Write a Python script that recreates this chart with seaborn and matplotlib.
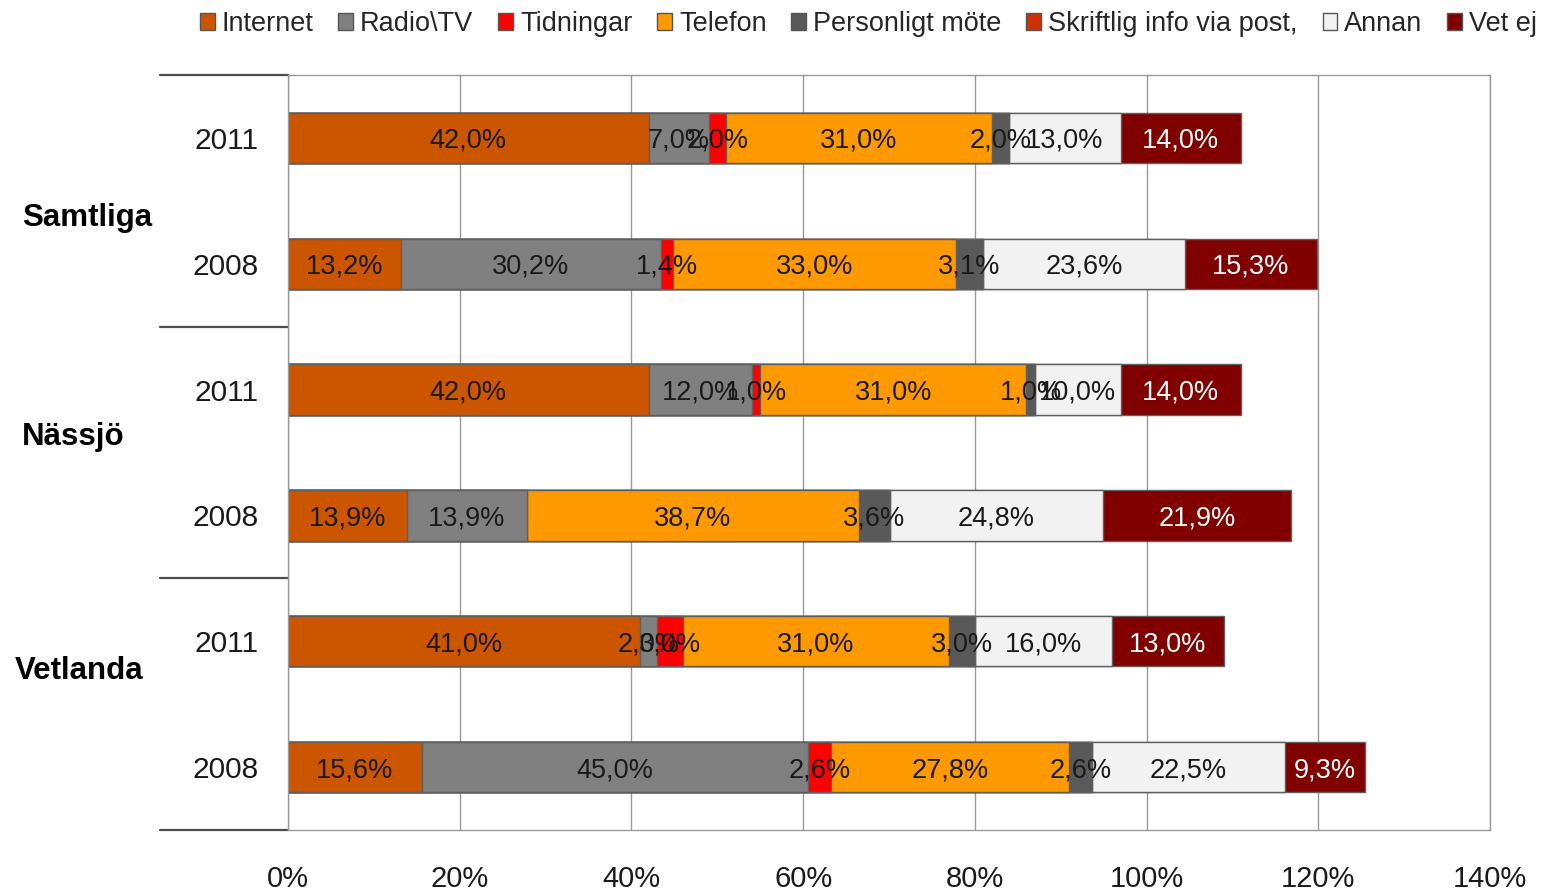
import numpy as np
import pandas as pd
import matplotlib
matplotlib.use("Agg")
import matplotlib.pyplot as plt
import seaborn as sns
from matplotlib.patches import Patch
from matplotlib.transforms import blended_transform_factory

# ---------------- data ----------------
groups = ["Samtliga", "Nässjö", "Vetlanda"]
years = ["2011", "2008"]
series = ["Internet", "Radio\\TV", "Tidningar", "Telefon", "Personligt möte",
          "Skriftlig info via post,", "Annan", "Vet ej"]
internet = [42.0, 13.2, 42.0, 13.9, 41.0, 15.6]
radio_tv = [7.0, 30.2, 12.0, 13.9, 2.0, 45.0]
tidningar = [2.0, 1.4, 1.0, 0.0, 3.0, 2.6]
telefon = [31.0, 33.0, 31.0, 38.7, 31.0, 27.8]
personligt = [2.0, 3.1, 1.0, 3.6, 3.0, 2.6]
skriftlig = [0.0, 0.0, 0.0, 0.0, 0.0, 0.0]
annan = [13.0, 23.6, 10.0, 24.8, 16.0, 22.5]
vet_ej = [14.0, 15.3, 14.0, 21.9, 13.0, 9.3]
xticks = [0, 20, 40, 60, 80, 100, 120, 140]

# ---------------- style ----------------
colors = ["#CC5500", "#808080", "#FF0000", "#FF9900", "#595959",
          "#CC3300", "#F2F2F2", "#800000"]
sns.set_style("white")
plt.rcParams["font.family"] = ["Liberation Sans", "DejaVu Sans"]

values = np.array([internet, radio_tv, tidningar, telefon, personligt,
                   skriftlig, annan, vet_ej])
cum = np.cumsum(values, axis=0)
row_keys = [f"{g} {y}" for g in groups for y in years]
row_years = [y for g in groups for y in years]

W, H = 1544, 891
fig = plt.figure(figsize=(W / 100, H / 100), dpi=100)
ax = fig.add_axes([288 / W, 1 - 830 / H, (1490 - 288) / W, (830 - 75) / H])

# stacked bars: draw cumulative totals from last series to first
for i in range(len(series) - 1, -1, -1):
    df = pd.DataFrame({"row": row_keys, "val": cum[i]})
    sns.barplot(data=df, x="val", y="row", order=row_keys, orient="y",
                color=colors[i], saturation=1, width=0.4, errorbar=None,
                edgecolor="#5f5f5f", linewidth=1.0, ax=ax, zorder=2)

# segment labels
for i in range(len(series)):
    for r in range(len(row_keys)):
        v = values[i, r]
        if v <= 0:
            continue
        xc = cum[i, r] - v / 2
        ax.text(xc, r, f"{v:.1f}%".replace(".", ","), ha="center",
                va="center_baseline", fontsize=19.5,
                color="white" if i == 7 else "#1a1a1a", zorder=5)

ax.set_xlim(0, 140)
ax.set_ylim(5.5, -0.5)
ax.set_xlabel("")
ax.set_ylabel("")
ax.set_xticks(xticks)
ax.set_xticklabels([f"{t}%" for t in xticks], fontsize=21, color="#1a1a1a")
ax.tick_params(axis="x", direction="out", length=8, width=1, color="#999999", pad=17)
ax.set_yticks(range(len(row_keys)))
ax.set_yticklabels(row_years, fontsize=21.5, color="#1a1a1a")
ax.tick_params(axis="y", which="major", length=0, pad=21)
ax.set_yticks(np.arange(-0.5, len(row_keys), 1.0), minor=True)
ax.tick_params(axis="y", which="minor", direction="out", length=6, width=1, color="#808080")

ax.xaxis.grid(True, color="#999999", linewidth=1)
ax.yaxis.grid(False)
ax.set_axisbelow(True)
for s in ax.spines.values():
    s.set_visible(True)
    s.set_color("#999999")
    s.set_linewidth(1)

# group separators
trans = blended_transform_factory(ax.transAxes, ax.transData)
for yb in [-0.5, 1.5, 3.5, 5.5]:
    ax.plot([-(288 - 160) / (1490 - 288), 0], [yb, yb], transform=trans,
            clip_on=False, color="#4d4d4d", linewidth=1.6)

# group labels
group_pos = [(22, 218), (22, 437), (15, 671)]
for g, (px, py) in zip(groups, group_pos):
    fig.text(px / W, 1 - py / H, g, ha="left", va="center",
             fontsize=22.5, fontweight="bold", color="#000000")

# legend
handles = [Patch(facecolor=c, edgecolor="#555555", linewidth=1) for c in colors]
fig.legend(handles, series, loc="center", bbox_to_anchor=(0.5625, 1 - 24 / H),
           ncol=8, frameon=False, fontsize=19.5, handlelength=0.55,
           handleheight=0.55, handletextpad=0.25, columnspacing=0.92,
           borderaxespad=0, borderpad=0)

fig.savefig("out.png", dpi=100)
